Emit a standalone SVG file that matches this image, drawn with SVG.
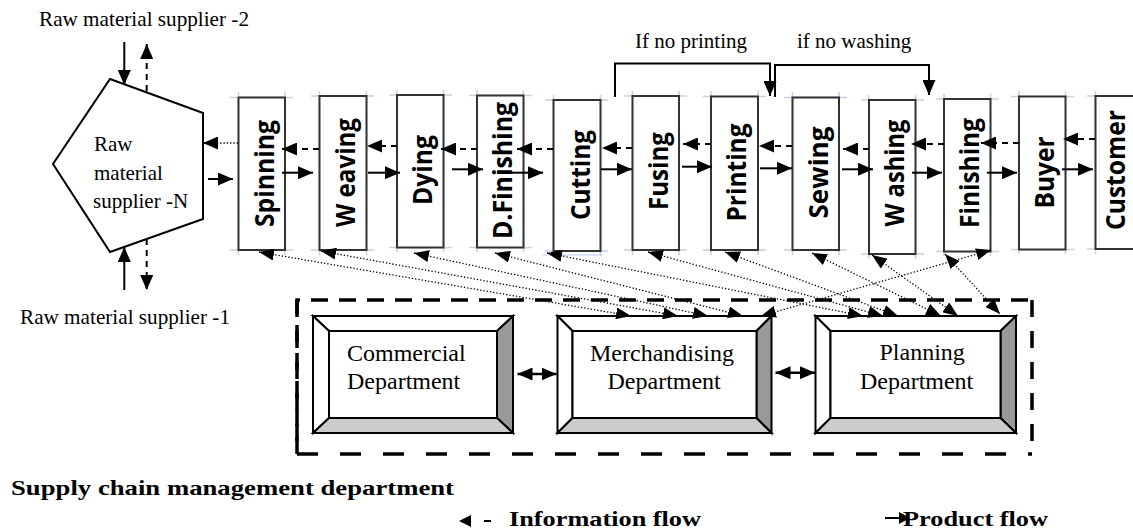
<svg xmlns="http://www.w3.org/2000/svg" width="1133" height="529" viewBox="0 0 1133 529">
<style>
.serif{font-family:"Liberation Serif","Times New Roman",serif;fill:#000}
.t21{font-size:21px}
.bold{font-weight:bold}
.proc{fill:#fff;stroke:#333;stroke-width:2}
.plab{font-family:"Open Sans","Noto Sans","DejaVu Sans",sans-serif;font-weight:700;font-size:27px;fill:#000}
.tick{stroke:#c8d0e4;stroke-width:1.5;fill:none}
.prod{stroke:#000;stroke-width:2;fill:none;marker-end:url(#ah)}
.info{stroke:#000;stroke-width:2;stroke-dasharray:6 5;fill:none;marker-end:url(#ah)}
.dot{stroke:#000;stroke-width:1.3;stroke-dasharray:1.3 2;fill:none;marker-start:url(#ahs);marker-end:url(#ahs)}
.brk{stroke:#000;stroke-width:2;fill:none}
.dept{stroke:#000;stroke-width:2}
</style>
<defs>
<marker id="ah" viewBox="0 0 15 13" refX="15" refY="6.5" markerWidth="15" markerHeight="13" markerUnits="userSpaceOnUse" orient="auto-start-reverse"><path d="M0,0 L15,6.5 L0,13 z" fill="#000"/></marker>
<marker id="ahs" viewBox="0 0 15 12" refX="15" refY="6" markerWidth="15" markerHeight="12" markerUnits="userSpaceOnUse" orient="auto-start-reverse"><path d="M0,0 L15,6 L0,12 z" fill="#000"/></marker>
</defs>
<rect width="1133" height="529" fill="#fff"/>

<g id="label-supplier-2"><text class="serif t21" x="39" y="26" textLength="210" lengthAdjust="spacingAndGlyphs">Raw material supplier -2</text></g>
<g id="label-supplier-1"><text class="serif t21" x="20" y="324" textLength="210" lengthAdjust="spacingAndGlyphs">Raw material supplier -1</text></g>

<g id="supplier-n">
<polygon points="110,79 203,113 203,219 110,252 53,164" fill="#fff" stroke="#000" stroke-width="2"/>
<text class="serif t21" x="94" y="151">Raw</text>
<text class="serif t21" x="94" y="180">material</text>
<text class="serif t21" x="93" y="208">supplier -N</text>
</g>

<g id="spinning"><path class="tick" d="M230,97.5h63M230,250h63M238.5,92v163M285,92v163"/><rect class="proc" x="238.5" y="97.5" width="46.5" height="152.5"/><text class="plab" transform="translate(273.5,173.5) rotate(-90)" text-anchor="middle" textLength="107" lengthAdjust="spacingAndGlyphs">Spinning</text></g>
<g id="weaving"><path class="tick" d="M311,96h63M311,250h63M319.5,91v164M366.5,91v164"/><rect class="proc" x="319.5" y="96" width="47" height="154"/><text class="plab" transform="translate(354.5,172.5) rotate(-90)" text-anchor="middle" textLength="109" lengthAdjust="spacingAndGlyphs">W eaving</text></g>
<g id="dying"><path class="tick" d="M389,95h63M389,247.5h63M397,90v162M443.5,90v162"/><rect class="proc" x="397" y="95" width="46.5" height="152.5"/><text class="plab" transform="translate(432,170) rotate(-90)" text-anchor="middle" textLength="70" lengthAdjust="spacingAndGlyphs">Dying</text></g>
<g id="d-finishing"><path class="tick" d="M469,95.5h63M469,247.5h63M477,90v162M523.5,90v162"/><rect class="proc" x="477" y="95.5" width="46.5" height="152"/><text class="plab" transform="translate(512,170.5) rotate(-90)" text-anchor="middle" textLength="137" lengthAdjust="spacingAndGlyphs">D.Finishing</text></g>
<g id="cutting"><path class="tick" d="M545,100h63M545,251h63M553.5,95v161M600.5,95v161"/><path d="M542,255h60" stroke="#b9cdf0" stroke-width="1.2"/><rect class="proc" x="553.5" y="100" width="47" height="151"/><text class="plab" transform="translate(590,175) rotate(-90)" text-anchor="middle" textLength="90" lengthAdjust="spacingAndGlyphs">Cutting</text></g>
<g id="fusing"><path class="tick" d="M624,96h63M624,250h63M632.5,91v164M679,91v164"/><rect class="proc" x="632.5" y="96" width="46.5" height="154"/><text class="plab" transform="translate(667.5,171) rotate(-90)" text-anchor="middle" textLength="78" lengthAdjust="spacingAndGlyphs">Fusing</text></g>
<g id="printing"><path class="tick" d="M703,96.5h63M703,250h63M711,91v164M758,91v164"/><rect class="proc" x="711" y="96.5" width="47" height="153.5"/><text class="plab" transform="translate(746,172.5) rotate(-90)" text-anchor="middle" textLength="98" lengthAdjust="spacingAndGlyphs">Printing</text></g>
<g id="sewing"><path class="tick" d="M784,97.5h63M784,250h63M792.5,92v163M839,92v163"/><rect class="proc" x="792.5" y="97.5" width="46.5" height="152.5"/><text class="plab" transform="translate(827.5,172.5) rotate(-90)" text-anchor="middle" textLength="92" lengthAdjust="spacingAndGlyphs">Sewing</text></g>
<g id="washing"><path class="tick" d="M861,100h63M861,254h63M869,95v164M915.5,95v164"/><rect class="proc" x="869" y="100" width="46.5" height="154"/><text class="plab" transform="translate(904,173) rotate(-90)" text-anchor="middle" textLength="107" lengthAdjust="spacingAndGlyphs">W ashing</text></g>
<g id="finishing"><path class="tick" d="M936,99h63M936,251.5h63M944,94v162M990.5,94v162"/><rect class="proc" x="944" y="99" width="46.5" height="152.5"/><text class="plab" transform="translate(979,173) rotate(-90)" text-anchor="middle" textLength="110" lengthAdjust="spacingAndGlyphs">Finishing</text></g>
<g id="buyer"><path class="tick" d="M1011,96.5h63M1011,249.5h63M1019,91v163M1065.5,91v163"/><rect class="proc" x="1019" y="96.5" width="46.5" height="153"/><text class="plab" transform="translate(1053.5,172.5) rotate(-90)" text-anchor="middle" textLength="72" lengthAdjust="spacingAndGlyphs">Buyer</text></g>
<g id="customer"><path class="tick" d="M1087,96h63M1087,249h63M1095.5,91v163"/><rect class="proc" x="1095.5" y="96" width="47" height="153"/><text class="plab" font-size="24" transform="translate(1125,170) rotate(-90)" text-anchor="middle" textLength="120" lengthAdjust="spacingAndGlyphs">Customer</text></g>

<g id="scm-department">
<path d="M297,454 V300 H1032" stroke="#000" stroke-width="3.5" fill="none" stroke-dasharray="17 11"/>
<path d="M297,300 V454" stroke="#000" stroke-width="3.5" fill="none" stroke-dasharray="17 14"/>
<path d="M1032,300 V454" stroke="#000" stroke-width="3.5" fill="none" stroke-dasharray="17 14"/>
<path d="M297,454 H1032" stroke="#000" stroke-width="3.5" fill="none" stroke-dasharray="21 22"/>
</g>
<g id="commercial">
<polygon class="dept" points="313,316 513,316 497,331 329,331" fill="#fff"/>
<polygon class="dept" points="313,316 329,331 329,418 313,433" fill="#fff"/>
<polygon class="dept" points="513,316 513,433 497,418 497,331" fill="#999"/>
<polygon class="dept" points="313,433 329,418 497,418 513,433" fill="#ccc"/>
<rect x="329" y="331" width="168" height="87" fill="#fff" stroke="#000" stroke-width="2"/>
<text class="serif" font-size="24" x="347" y="360.5">Commercial</text>
<text class="serif" font-size="24" x="347" y="389">Department</text>
</g>
<g id="merchandising">
<polygon class="dept" points="557.5,316 771.5,316 756.5,331 572.5,331" fill="#fff"/>
<polygon class="dept" points="557.5,316 572.5,331 572.5,418 557.5,433" fill="#fff"/>
<polygon class="dept" points="771.5,316 771.5,433 756.5,418 756.5,331" fill="#999"/>
<polygon class="dept" points="557.5,433 572.5,418 756.5,418 771.5,433" fill="#ccc"/>
<rect x="572.5" y="331" width="184" height="87" fill="#fff" stroke="#000" stroke-width="2"/>
<text class="serif" font-size="24" x="590" y="360.5">Merchandising</text>
<text class="serif" font-size="24" x="607.5" y="389">Department</text>
</g>
<g id="planning">
<polygon class="dept" points="815.5,316 1016,316 1000.5,331 830.5,331" fill="#fff"/>
<polygon class="dept" points="815.5,316 830.5,331 830.5,418 815.5,433" fill="#fff"/>
<polygon class="dept" points="1016,316 1016,433 1000.5,418 1000.5,331" fill="#999"/>
<polygon class="dept" points="815.5,433 830.5,418 1000.5,418 1016,433" fill="#ccc"/>
<rect x="830.5" y="331" width="170" height="87" fill="#fff" stroke="#000" stroke-width="2"/>
<text class="serif" font-size="24" x="879.5" y="360">Planning</text>
<text class="serif" font-size="24" x="860" y="389">Department</text>
</g>

<g id="connectors">
<line class="prod" x1="124.3" y1="42" x2="124.3" y2="85"/>
<line class="info" x1="146.7" y1="91" x2="146.7" y2="44"/>
<line class="prod" x1="124.3" y1="290" x2="124.3" y2="247"/>
<line class="info" x1="146.7" y1="239" x2="146.7" y2="290"/>
<line x1="238" y1="143" x2="203" y2="143" stroke="#000" stroke-width="1.3" stroke-dasharray="1.3 2" marker-end="url(#ah)"/>
<line class="prod" x1="208" y1="179" x2="233" y2="179"/>
<line class="prod" x1="282" y1="172.7" x2="313" y2="172.7"/>
<line class="prod" x1="368" y1="172.7" x2="400" y2="172.7"/>
<line class="prod" x1="452" y1="169.3" x2="483" y2="169.3"/>
<line class="prod" x1="512" y1="172.7" x2="543" y2="172.7"/>
<line class="prod" x1="601" y1="169.3" x2="632" y2="169.3"/>
<line class="prod" x1="682" y1="166.7" x2="712" y2="166.7"/>
<line class="prod" x1="760" y1="168.3" x2="792" y2="168.3"/>
<line class="prod" x1="842" y1="169.3" x2="873" y2="169.3"/>
<line class="prod" x1="912" y1="172.7" x2="942" y2="172.7"/>
<line class="prod" x1="987" y1="172.7" x2="1017" y2="172.7"/>
<line class="prod" x1="1062" y1="169.3" x2="1093" y2="169.3"/>
<line class="info" x1="319" y1="149" x2="282" y2="149"/>
<line class="info" x1="397" y1="146" x2="367" y2="146"/>
<line class="info" x1="477" y1="149" x2="441" y2="149"/>
<line class="info" x1="553" y1="149" x2="517" y2="149"/>
<line class="info" x1="632" y1="148" x2="602" y2="148"/>
<line class="info" x1="711" y1="144" x2="683" y2="144"/>
<line class="info" x1="792" y1="146" x2="759" y2="146"/>
<line class="info" x1="869" y1="149" x2="843" y2="149"/>
<line class="info" x1="944" y1="144" x2="911" y2="144"/>
<line class="info" x1="1019" y1="143" x2="981" y2="143"/>
<line class="info" x1="1095" y1="139" x2="1063" y2="139"/>
<polyline class="brk" points="615,97 615,63.5 770,63.5 770,96" marker-end="url(#ah)"/>
<polyline class="brk" points="775,97 775,65 929,65 929,95" marker-end="url(#ah)"/>
<line class="dot" x1="259" y1="252" x2="631" y2="316"/>
<line class="dot" x1="321" y1="251" x2="678" y2="316"/>
<line class="dot" x1="414" y1="253" x2="708" y2="316"/>
<line class="dot" x1="495" y1="253" x2="743" y2="316"/>
<line class="dot" x1="547" y1="253" x2="863" y2="316"/>
<line class="dot" x1="648" y1="252" x2="883" y2="316"/>
<line class="dot" x1="725" y1="252" x2="898" y2="316"/>
<line class="dot" x1="812" y1="253" x2="941" y2="316"/>
<line class="dot" x1="872" y1="255" x2="958" y2="316"/>
<line class="dot" x1="945" y1="254" x2="1000" y2="314"/>
<line class="dot" x1="991" y1="250" x2="761" y2="316"/>
<line x1="517.5" y1="374" x2="556.5" y2="374" stroke="#000" stroke-width="2.5" marker-start="url(#ah)" marker-end="url(#ah)"/>
<line x1="775.5" y1="372.7" x2="815" y2="372.7" stroke="#000" stroke-width="2.5" marker-start="url(#ah)" marker-end="url(#ah)"/>
</g>

<g id="bypass-labels">
<text class="serif t21" x="635" y="48">If no printing</text>
<text class="serif t21" x="797" y="48">if no washing</text>
</g>

<g id="title"><text class="serif t21 bold" x="11" y="495" textLength="443" lengthAdjust="spacingAndGlyphs">Supply chain management department</text></g>

<g id="legend">
<polygon points="459,521 471,515 471,527" fill="#000"/>
<line x1="484" y1="521" x2="491" y2="521" stroke="#000" stroke-width="2"/>
<text class="serif t21 bold" x="509" y="526" textLength="192" lengthAdjust="spacingAndGlyphs">Information flow</text>
<line x1="885" y1="518" x2="900" y2="518" stroke="#000" stroke-width="2"/>
<polygon points="899,512 910,518 899,524" fill="#000"/>
<text class="serif t21 bold" x="903" y="526" textLength="145" lengthAdjust="spacingAndGlyphs">Product flow</text>
</g>
</svg>
